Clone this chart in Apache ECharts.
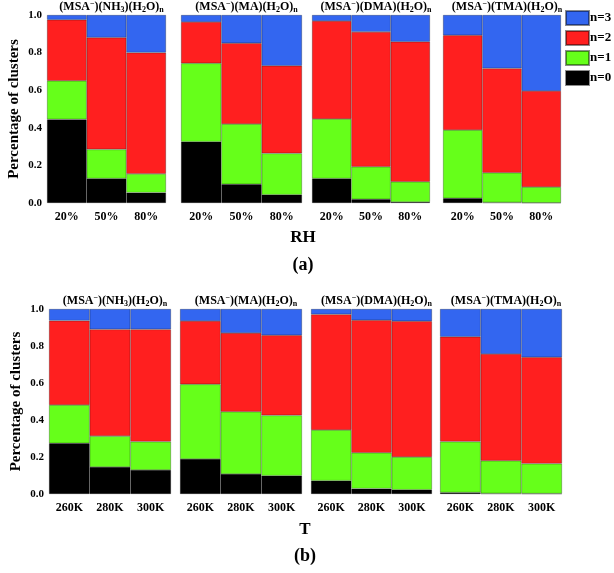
<!DOCTYPE html>
<html><head><meta charset="utf-8">
<script src="https://cdn.jsdelivr.net/npm/echarts@6/dist/echarts.min.js"></script>
<style>html,body{margin:0;padding:0;background:#fff}#c{width:614px;height:573px}</style>
</head><body><div id="c"></div>
<script>
// Panel names (cation)
const cations = ['NH3', 'MA', 'DMA', 'TMA'];
const rhLabels = ['20%', '50%', '80%'];
const tLabels = ['260K', '280K', '300K'];
const yTicks = [0, 0.2, 0.4, 0.6, 0.8, 1.0];
const legendNames = ['n=3', 'n=2', 'n=1', 'n=0'];

// (a) RH: fraction of clusters for each n, per panel [NH3, MA, DMA, TMA], per RH [20,50,80]
const rhN0 = [[0.445, 0.13, 0.055], [0.326, 0.10, 0.044], [0.13, 0.02, 0.005], [0.025, 0.003, 0.001]];
const rhN1 = [[0.205, 0.155, 0.10], [0.417, 0.32, 0.22], [0.317, 0.173, 0.108], [0.363, 0.158, 0.084]];
const rhN2 = [[0.325, 0.595, 0.645], [0.22, 0.43, 0.466], [0.521, 0.717, 0.745], [0.504, 0.555, 0.511]];
const rhN3 = [[0.025, 0.12, 0.20], [0.037, 0.15, 0.27], [0.032, 0.09, 0.142], [0.108, 0.284, 0.404]];

// (b) T: per panel, per T [260,280,300]
const tN0 = [[0.274, 0.146, 0.13], [0.189, 0.108, 0.099], [0.072, 0.029, 0.023], [0.008, 0.003, 0.002]];
const tN1 = [[0.207, 0.167, 0.153], [0.404, 0.337, 0.326], [0.274, 0.194, 0.177], [0.275, 0.177, 0.162]];
const tN2 = [[0.456, 0.577, 0.607], [0.342, 0.425, 0.433], [0.625, 0.716, 0.734], [0.567, 0.577, 0.575]];
const tN3 = [[0.063, 0.11, 0.11], [0.065, 0.13, 0.142], [0.029, 0.061, 0.066], [0.15, 0.243, 0.261]];

const colors = { 'n=0': '#000000', 'n=1': '#66ff1a', 'n=2': '#ff1f1f', 'n=3': '#3366f0' };
const FONT = '"Liberation Serif", "Times New Roman", serif';

const gridsPos = [
  [47, 15, 119, 188], [181, 15, 121, 188], [312, 15, 118, 188], [443, 15, 118, 188],
  [49, 309, 122, 185], [180, 309, 122, 185], [311, 309, 121, 185], [440, 309, 122, 185]
];

const grid = [], xAxis = [], yAxis = [], series = [], title = [];
const titleRich = {
  b: { fontFamily: FONT, fontWeight: 'bold', fontSize: 12, color: '#000' },
  sup: { fontFamily: FONT, fontWeight: 'bold', fontSize: 8, color: '#000', verticalAlign: 'top', padding: [0, 0, 6, 0] },
  sub: { fontFamily: FONT, fontWeight: 'bold', fontSize: 8, color: '#000', verticalAlign: 'bottom', padding: [6, 0, 0, 0] }
};
function titleText(c) {
  let mid;
  if (c === 'NH3') mid = '{b|)(NH}{sub|3}{b|)(H}';
  else mid = '{b|)(' + c + ')(H}';
  return '{b|(MSA}{sup|\u2212}' + mid + '{sub|2}{b|O)}{sub|n}';
}

for (let g = 0; g < 8; g++) {
  const [l, t, w, h] = gridsPos[g];
  const row = g < 4 ? 0 : 1;
  const p = g % 4;
  grid.push({ left: l, top: t, width: w, height: h });
  xAxis.push({
    type: 'category', gridIndex: g, data: row === 0 ? rhLabels : tLabels,
    axisLine: { show: false }, axisTick: { show: false },
    axisLabel: { fontFamily: FONT, fontWeight: 'bold', fontSize: 12, color: '#000', margin: 8 }
  });
  yAxis.push({
    type: 'value', gridIndex: g, min: 0, max: 1, interval: 0.2,
    axisLine: { show: false }, axisTick: { show: false }, splitLine: { show: false },
    axisLabel: {
      show: p === 0, fontFamily: FONT, fontWeight: 'bold', fontSize: 11, color: '#000', margin: 5,
      formatter: v => v.toFixed(1)
    },
    name: p === 0 ? 'Percentage of clusters' : '', nameLocation: 'middle', nameRotate: 90, nameGap: 25,
    nameTextStyle: { fontFamily: FONT, fontWeight: 'bold', fontSize: 15, color: '#000' }
  });
  const sets = row === 0 ? [rhN0, rhN1, rhN2, rhN3] : [tN0, tN1, tN2, tN3];
  ['n=0', 'n=1', 'n=2', 'n=3'].forEach((nm, k) => {
    series.push({
      name: nm, type: 'bar', stack: 's' + g, xAxisIndex: g, yAxisIndex: g,
      data: sets[k][p], barCategoryGap: '0%',
      itemStyle: { color: colors[nm], borderColor: 'rgba(0,0,0,0.45)', borderWidth: 0.6 },
      emphasis: { disabled: true }
    });
  });
  title.push({
    text: titleText(cations[p]), left: l + w / 2, top: t - 20, textAlign: 'center',
    textStyle: { rich: titleRich }
  });
}

const option = {
  animation: false,
  backgroundColor: '#fff',
  title, grid, xAxis, yAxis, series,
  legend: {
    data: legendNames, orient: 'vertical', left: 565, top: 10, padding: 0,
    itemWidth: 23, itemHeight: 14, itemGap: 4, icon: 'rect',
    textStyle: { fontFamily: FONT, fontWeight: 'bold', fontSize: 13, color: '#000', padding: [0, 0, 0, -4] },
    selectedMode: false
  },
  graphic: [
    { type: 'text', x: 303, y: 229, style: { text: 'RH', fontFamily: FONT, fontWeight: 'bold', fontSize: 17, fill: '#000', align: 'center' } },
    { type: 'text', x: 303, y: 256, style: { text: '(a)', fontFamily: FONT, fontWeight: 'bold', fontSize: 18, fill: '#000', align: 'center' } },
    { type: 'text', x: 305, y: 521, style: { text: 'T', fontFamily: FONT, fontWeight: 'bold', fontSize: 17, fill: '#000', align: 'center' } },
    { type: 'text', x: 305, y: 547, style: { text: '(b)', fontFamily: FONT, fontWeight: 'bold', fontSize: 18, fill: '#000', align: 'center' } }
  ]
};
const chart = echarts.init(document.getElementById('c'), null, { renderer: 'canvas' });
chart.setOption(option);
</script>
</body></html>
